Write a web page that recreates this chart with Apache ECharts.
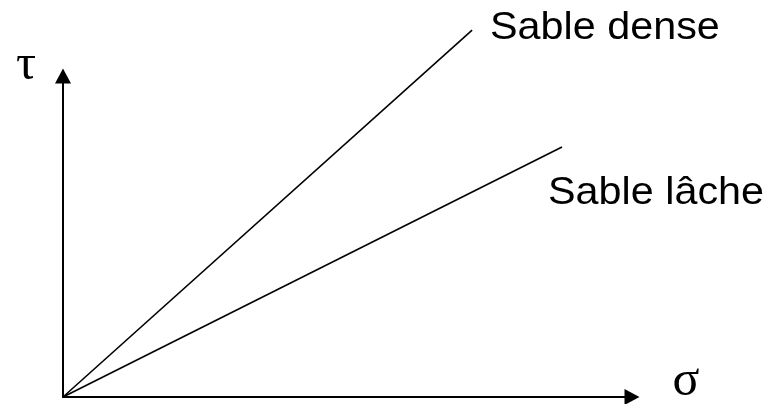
<!DOCTYPE html>
<html>
<head>
<meta charset="utf-8">
<script src="https://cdn.jsdelivr.net/npm/echarts@6/dist/echarts.min.js"></script>
<style>
html,body{margin:0;padding:0;background:#fff;}
#c{width:784px;height:404px;}
</style>
</head>
<body>
<div id="c"></div>
<script>
// Data (arbitrary units: x in sigma, y in tau)
const seriesNames = ['Sable dense', 'Sable lâche'];
const denseX = [0, 7.19];
const denseY = [0, 11.43];
const lacheX = [0, 8.77];
const lacheY = [0, 7.79];
const axisNames = ['σ', 'τ'];

const chart = echarts.init(document.getElementById('c'), null, {renderer: 'canvas'});
const toPairs = (xs, ys) => xs.map((x, i) => [x, ys[i]]);

chart.setOption({
  animation: false,
  backgroundColor: '#ffffff',
  grid: {left: 63, right: 152, top: 76, bottom: 7, containLabel: false},
  xAxis: {
    type: 'value', min: 0, max: 10,
    axisLine: {show: true, lineStyle: {color: '#000', width: 2}, symbol: ['none', 'triangle'], symbolSize: [16, 15], symbolOffset: [0, 0]},
    axisTick: {show: false}, axisLabel: {show: false}, splitLine: {show: false}
  },
  yAxis: {
    type: 'value', min: 0, max: 10,
    axisLine: {show: true, lineStyle: {color: '#000', width: 2}, symbol: ['none', 'triangle'], symbolSize: [16, 15], symbolOffset: [0, 0]},
    axisTick: {show: false}, axisLabel: {show: false}, splitLine: {show: false}
  },
  series: [
    {name: seriesNames[0], type: 'line', data: toPairs(denseX, denseY), symbol: 'none', clip: false,
     lineStyle: {color: '#000', width: 1.6}},
    {name: seriesNames[1], type: 'line', data: toPairs(lacheX, lacheY), symbol: 'none', clip: false,
     lineStyle: {color: '#000', width: 1.6}}
  ],
  graphic: [
    {type: 'text', x: 490, y: 28, scaleX: 1.06, style: {text: seriesNames[0], fontFamily: 'Liberation Sans, Arial, sans-serif', fontSize: 39, fill: '#000', align: 'left', verticalAlign: 'middle'}},
    {type: 'text', x: 548, y: 193, scaleX: 1.06, style: {text: seriesNames[1], fontFamily: 'Liberation Sans, Arial, sans-serif', fontSize: 39, fill: '#000', align: 'left', verticalAlign: 'middle'}},
    {type: 'text', x: 26, y: 66, style: {text: axisNames[1], fontFamily: 'Liberation Serif, Times New Roman, serif', fontSize: 50, fill: '#000', align: 'center', verticalAlign: 'middle'}},
    {type: 'text', x: 686, y: 382, style: {text: axisNames[0], fontFamily: 'Liberation Serif, Times New Roman, serif', fontSize: 50, fill: '#000', align: 'center', verticalAlign: 'middle'}}
  ]
});
</script>
</body>
</html>
